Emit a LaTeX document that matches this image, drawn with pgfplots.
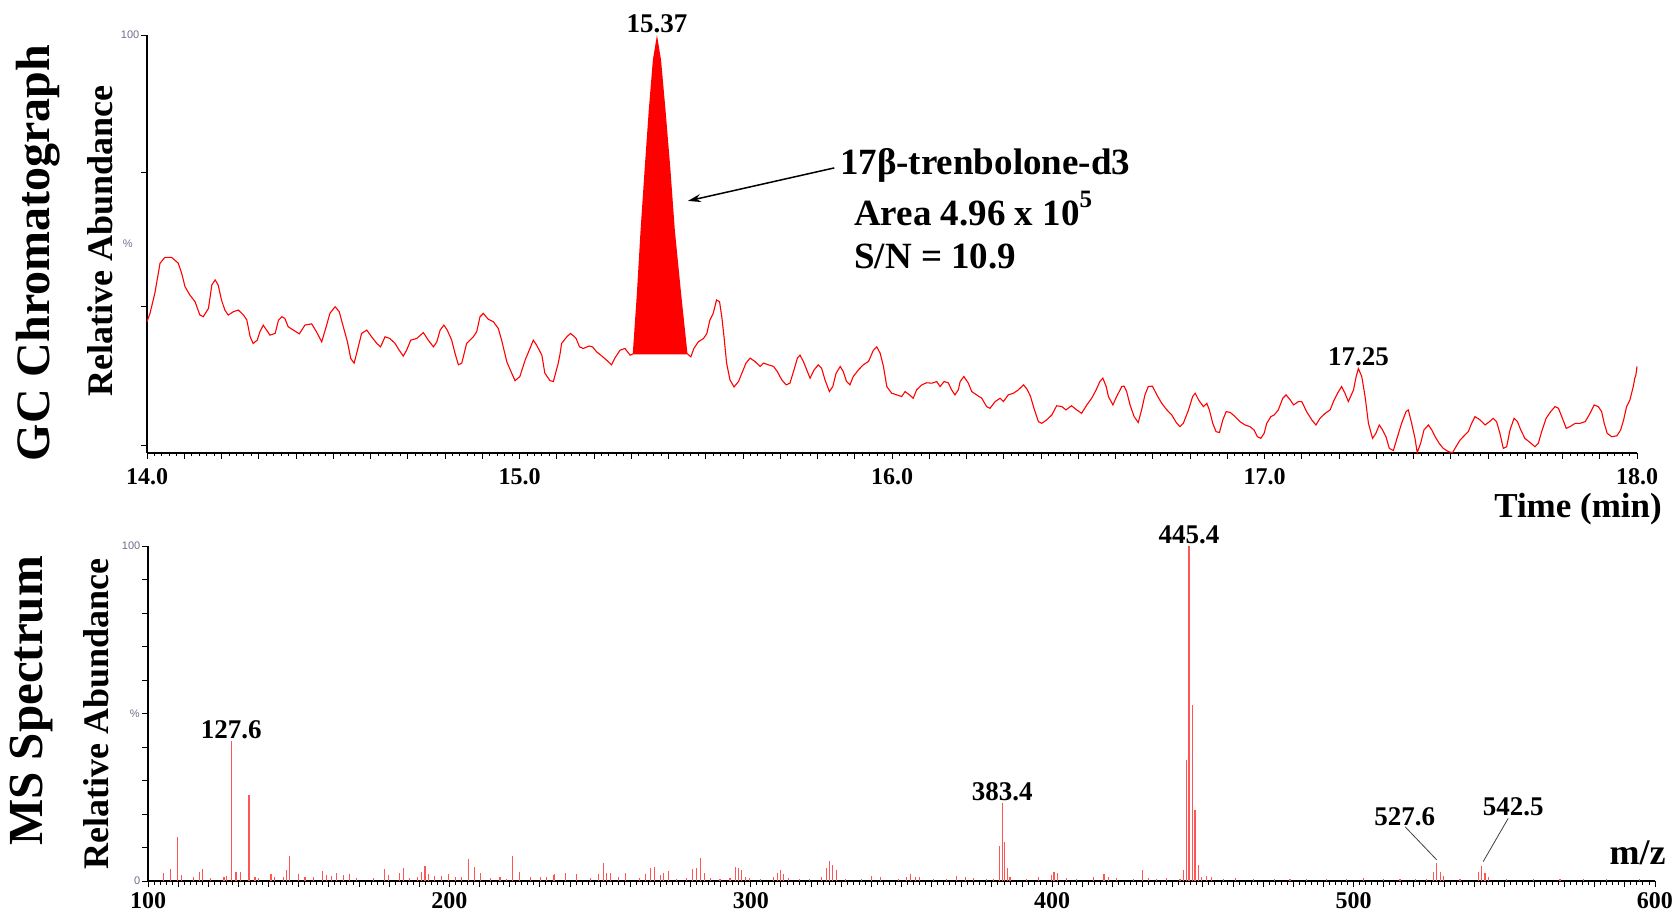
\documentclass[border=0pt]{standalone}
\usepackage{fontspec}
\setmainfont{Liberation Serif}
\newfontfamily\sansf{Liberation Sans}
\usepackage{pgfplots}
\pgfplotsset{compat=1.18}
\usetikzlibrary{arrows.meta}
\definecolor{msred}{RGB}{255,85,85}
\definecolor{ticklab}{RGB}{110,110,140}
\newcommand{\bfs}[1]{\bfseries\fontsize{#1}{#1}\selectfont}
\begin{document}
\begin{tikzpicture}
\useasboundingbox (0pt,0pt) rectangle (1678pt,914pt);
\pgfplotsset{
  common/.style={
    scale only axis, clip=false,
    axis lines*=left, axis line style={-},
    x axis line style={line width=2.4pt},
    y axis line style={line width=1.6pt},
    tick align=outside,
    major tick length=6pt, minor tick length=6pt,
    tick style={black, line width=0.9pt},
    extra x tick style={major tick length=3.5pt},
    extra x tick labels={},
    extra y tick labels={},
    xticklabel style={font=\bfs{24}, inner sep=0pt, anchor=north},
    yticklabel style={font=\sansf\fontsize{11}{11}\selectfont, text=ticklab, inner sep=1.5pt},
  }
}
% ---------------- GC chromatogram ----------------
\begin{axis}[common,
  at={(147pt,461pt)}, anchor=south west, width=1490pt, height=418pt,
  xmin=14, xmax=18, ymin=0, ymax=100,
  xtick={14,15,16,17,18}, xticklabels={14.0,15.0,16.0,17.0,18.0},
  minor xtick={14,14.1,...,18},
  extra x ticks={14,14.02,...,18},
  xticklabel style={yshift=-9pt},
  ytick={100}, yticklabels={100},
  extra y ticks={1.9,35,67.2},
]
\addplot[fill=red, draw=none] coordinates {
(15.304,23.7) (15.315,38) (15.325,53.3) (15.336,68) (15.347,82) (15.358,94) (15.369,100)
(15.380,94) (15.392,82) (15.405,68) (15.417,53.3) (15.434,38) (15.451,23.7)} -- cycle;
\addplot[red, line width=1.1pt] coordinates {
(14.000,31.4) (14.008,33.4) (14.021,38.2) (14.035,45.4) (14.048,46.8) (14.066,46.8) (14.084,45.4)
(14.093,43.0) (14.102,39.8) (14.115,37.8) (14.129,36.2) (14.142,33.0) (14.151,32.6) (14.165,34.6)
(14.174,40.2) (14.183,41.4) (14.191,40.2) (14.200,36.6) (14.209,34.2) (14.218,33.0) (14.232,33.8)
(14.245,34.2) (14.259,33.0) (14.268,31.8) (14.277,27.8) (14.285,26.2) (14.296,27.0) (14.303,29.0)
(14.312,30.6) (14.321,29.4) (14.330,28.2) (14.344,28.6) (14.353,31.8) (14.362,32.6) (14.370,32.2)
(14.379,30.2) (14.393,29.4) (14.409,28.5) (14.424,30.6) (14.442,30.9) (14.455,29.0) (14.469,26.6)
(14.481,30.2) (14.491,33.4) (14.505,35.0) (14.516,33.8) (14.527,30.2) (14.538,26.6) (14.547,22.6)
(14.556,21.5) (14.565,24.6) (14.576,28.6) (14.590,29.4) (14.603,27.8) (14.617,26.2) (14.627,25.4)
(14.639,27.8) (14.652,27.4) (14.666,26.2) (14.677,24.6) (14.688,23.2) (14.697,24.6) (14.708,27.0)
(14.724,27.4) (14.742,28.8) (14.755,27.0) (14.769,25.4) (14.778,26.6) (14.787,29.4) (14.797,30.6)
(14.806,29.4) (14.818,27.0) (14.827,23.8) (14.836,21.1) (14.845,21.5) (14.858,26.2) (14.876,27.8)
(14.885,29.0) (14.894,32.6) (14.903,33.4) (14.916,32.0) (14.930,31.4) (14.943,29.8) (14.952,27.0)
(14.966,21.8) (14.979,19.1) (14.988,17.3) (15.001,18.3) (15.015,22.2) (15.028,25.0) (15.037,27.0)
(15.046,25.8) (15.060,23.4) (15.068,19.1) (15.082,17.3) (15.091,17.1) (15.104,21.5) (15.109,23.8)
(15.113,26.2) (15.127,27.8) (15.137,28.6) (15.145,28.0) (15.152,27.4) (15.161,25.4) (15.171,25.0)
(15.187,25.6) (15.196,25.4) (15.207,24.2) (15.221,23.2) (15.234,22.2) (15.247,21.1) (15.256,22.7)
(15.270,24.6) (15.283,25.0) (15.297,23.4) (15.304,23.7)
(15.451,23.7) (15.460,23.0) (15.468,25.0) (15.480,26.6) (15.494,27.4) (15.503,28.6) (15.511,31.8)
(15.520,33.4) (15.529,36.6) (15.537,36.2) (15.543,32.6) (15.549,27.8) (15.556,21.5) (15.565,17.5)
(15.576,15.8) (15.588,17.1) (15.597,19.1) (15.608,21.5) (15.619,22.7) (15.632,21.9) (15.646,20.7)
(15.655,21.5) (15.668,21.1) (15.682,20.7) (15.692,19.5) (15.704,17.5) (15.716,16.3) (15.726,16.7)
(15.737,19.9) (15.746,22.7) (15.753,23.4) (15.762,21.9) (15.771,19.9) (15.780,17.9) (15.791,19.9)
(15.802,21.1) (15.811,20.3) (15.820,17.5) (15.832,14.7) (15.841,15.9) (15.850,19.1) (15.861,20.7)
(15.869,19.5) (15.878,17.1) (15.887,16.3) (15.896,18.3) (15.910,19.9) (15.923,21.1) (15.937,21.9)
(15.950,24.6) (15.959,25.4) (15.968,23.9) (15.977,20.7) (15.986,15.9) (15.999,14.3) (16.013,13.9)
(16.026,13.5) (16.035,14.7) (16.047,13.9) (16.057,13.1) (16.066,15.1) (16.080,16.3) (16.093,16.8)
(16.107,16.7) (16.120,17.1) (16.129,15.9) (16.140,17.1) (16.151,16.8) (16.160,15.1) (16.169,13.9)
(16.178,15.1) (16.183,17.1) (16.193,18.3) (16.205,16.7) (16.214,14.7) (16.227,13.9) (16.241,13.1)
(16.254,11.1) (16.263,10.7) (16.277,12.3) (16.290,13.1) (16.299,12.3) (16.312,13.9) (16.326,14.3)
(16.339,15.1) (16.353,16.3) (16.363,15.2) (16.372,13.5) (16.381,10.7) (16.393,7.5) (16.402,7.1)
(16.415,7.9) (16.429,9.1) (16.442,11.3) (16.456,11.1) (16.467,10.3) (16.482,11.3) (16.496,10.3)
(16.509,9.5) (16.523,11.5) (16.536,13.1) (16.548,15.1) (16.558,17.1) (16.566,17.9) (16.575,15.9)
(16.581,13.5) (16.593,11.5) (16.603,13.5) (16.617,15.9) (16.623,16.0) (16.630,14.7) (16.639,11.5)
(16.650,8.7) (16.661,7.3) (16.670,10.3) (16.679,13.9) (16.688,15.9) (16.699,16.0) (16.711,13.9)
(16.724,11.9) (16.737,10.4) (16.751,9.1) (16.763,7.3) (16.773,6.3) (16.782,7.1) (16.796,10.3)
(16.807,13.5) (16.814,14.3) (16.823,12.7) (16.836,11.1) (16.845,11.9) (16.852,10.3) (16.861,7.1)
(16.870,5.1) (16.879,4.9) (16.888,7.9) (16.897,9.9) (16.908,9.7) (16.921,8.7) (16.934,7.5)
(16.948,6.7) (16.961,6.3) (16.972,5.5) (16.981,3.9) (16.990,3.5) (16.999,4.7) (17.006,7.1)
(17.017,8.7) (17.026,9.1) (17.037,10.3) (17.049,13.1) (17.058,13.9) (17.069,12.7) (17.078,11.5)
(17.091,12.3) (17.100,12.3) (17.113,9.9) (17.127,7.9) (17.138,6.7) (17.149,8.3) (17.163,9.5)
(17.176,10.3) (17.185,12.3) (17.196,14.3) (17.207,15.9) (17.216,14.3) (17.225,12.3) (17.239,15.1)
(17.246,18.3) (17.252,20.2) (17.261,18.3) (17.270,13.5) (17.279,7.1) (17.290,3.5) (17.299,4.7)
(17.308,6.7) (17.317,5.5) (17.326,3.9) (17.335,1.1) (17.346,0.6) (17.357,3.9) (17.368,7.1)
(17.380,9.9) (17.386,10.3) (17.395,7.1) (17.404,3.5) (17.410,0.1) (17.419,2.3) (17.428,5.5)
(17.440,6.7) (17.449,5.5) (17.458,3.9) (17.469,2.3) (17.480,1.1) (17.494,0.3) (17.505,0.1)
(17.514,1.5) (17.525,3.1) (17.538,4.3) (17.547,5.1) (17.556,7.1) (17.565,8.7) (17.579,7.9)
(17.592,6.7) (17.604,7.5) (17.614,8.3) (17.623,7.5) (17.632,4.7) (17.641,1.1) (17.650,1.5)
(17.659,5.5) (17.670,8.3) (17.679,7.5) (17.688,5.5) (17.699,3.5) (17.713,2.5) (17.726,1.5)
(17.735,2.3) (17.744,5.1) (17.756,8.3) (17.768,9.9) (17.780,11.1) (17.789,10.7) (17.798,8.7)
(17.810,5.9) (17.820,6.3) (17.834,7.1) (17.847,7.1) (17.861,7.5) (17.874,9.5) (17.885,11.5)
(17.896,11.1) (17.905,9.9) (17.912,7.1) (17.920,4.7) (17.932,3.9) (17.946,4.1) (17.956,5.5)
(17.964,7.9) (17.972,11.1) (17.981,12.7) (17.990,15.9) (17.994,17.9) (17.997,18.7) (18.000,20.7)};
\node[anchor=south, font=\bfs{27}, inner sep=2pt] at (axis cs:15.369,100) {15.37};
\node[anchor=south, font=\bfs{27}, inner sep=2pt] at (axis cs:17.252,20.2) {17.25};
\node[anchor=east, font=\sansf\fontsize{11}{11}\selectfont, text=ticklab, inner sep=1pt] at (axis cs:13.965,50) {\%};
\draw[-{Stealth[length=13pt,width=8pt]}, line width=1.5pt] (axis cs:15.845,68.2) -- (axis cs:15.452,60.3);
\node[anchor=west, font=\bfs{37}, inner sep=0pt] at (axis cs:15.860,68.7) {17β-trenbolone-d3};
\node[anchor=west, font=\bfs{37}, inner sep=0pt] at (axis cs:15.898,58.5) {Area 4.96 x 10\raisebox{0.5em}{\fontsize{25}{25}\selectfont 5}};
\node[anchor=west, font=\bfs{37}, inner sep=0pt] at (axis cs:15.898,46.9) {S/N = 10.9};
\end{axis}
% ---------------- MS spectrum ----------------
\begin{axis}[common,
  at={(148pt,33pt)}, anchor=south west, width=1507pt, height=335pt,
  xmin=100, xmax=600, ymin=0, ymax=100,
  xtick={100,200,...,600}, xticklabels={100,200,300,400,500,600},
  minor xtick={100,110,...,600},
  extra x ticks={100,102,...,600},
  xticklabel style={yshift=-5pt},
  ytick={0,100}, yticklabels={0,100},
  extra y ticks={10,20,...,90},
]
\addplot[ycomb, msred, line width=1.1pt] coordinates {
(105.1,2.3) (107.5,3.5) (109.7,13.2) (111.2,1.8) (115.0,1.3) (117.0,2.8) (118.1,3.5) (120.8,0.8)
(125.2,1.3) (126.1,1.5) (127.6,41.8) (129.2,2.8) (130.8,2.8) (133.5,25.7) (135.5,1.3) (136.6,0.8)
(140.8,2.0) (142.1,1.3) (144.9,1.1) (146.0,3.3) (146.8,7.6) (149.9,2.1) (152.1,1.1) (154.9,1.1)
(158.0,3.1) (159.3,1.8) (161.0,1.5) (162.6,2.3) (165.0,1.8) (166.8,2.0) (169.2,0.8) (174.8,0.8)
(178.6,3.5) (179.7,1.8) (183.4,2.5) (184.7,3.8) (186.9,0.8) (189.4,1.3) (190.8,2.8) (191.9,4.6)
(193.0,2.0) (195.2,1.5) (197.4,1.5) (199.7,2.0) (201.9,1.3) (204.1,1.3) (206.3,6.6) (208.2,4.3)
(210.2,2.3) (213.5,0.8) (216.8,1.1) (219.0,0.6) (221.0,7.6) (223.2,2.8) (226.8,1.1) (230.1,1.3)
(232.3,1.1) (234.5,1.8) (235.0,2.1) (238.4,2.3) (242.2,2.0) (246.7,0.8) (249.4,2.1) (251.1,5.3)
(252.2,2.3) (253.5,2.3) (256.1,1.3) (258.3,2.5) (263.2,0.8) (265.2,2.0) (266.8,4.0) (268.2,4.3)
(269.9,1.8) (271.0,2.3) (272.6,3.0) (275.4,0.6) (278.7,0.8) (280.7,3.5) (282.0,3.8) (283.4,7.0)
(284.5,2.3) (286.5,0.8) (289.8,0.6) (293.1,0.8) (294.8,4.3) (295.9,4.0) (297.0,3.3) (298.1,1.3)
(299.7,0.8) (303.1,0.6) (307.5,1.3) (308.8,2.3) (309.9,3.3) (311.0,2.0) (312.5,0.8) (316.3,0.6)
(319.6,0.6) (323.5,1.1) (325.2,3.8) (326.1,6.0) (327.2,4.8) (328.5,3.3) (331.3,0.6) (336.8,0.5)
(340.1,1.5) (342.9,1.1) (349.0,0.6) (351.7,1.3) (353.1,2.0) (354.5,1.3) (356.1,1.1) (360.6,0.5)
(365.0,0.5) (368.3,1.5) (371.1,1.3) (373.8,0.8) (378.3,0.5) (380.5,0.6) (382.5,10.3) (383.4,23.2)
(384.3,11.5) (385.2,3.8) (386.0,1.3) (391.5,0.6) (395.4,1.3) (399.8,1.8) (400.6,2.8) (401.7,2.3)
(404.8,0.8) (408.1,0.6) (413.7,1.1) (417.2,2.0) (418.6,1.1) (421.4,0.8) (426.9,0.5) (430.0,3.3)
(431.9,0.8) (434.7,0.6) (438.0,1.0) (442.4,0.6) (443.7,3.3) (444.6,36.1) (445.4,100) (446.5,52.5)
(447.4,21.2) (448.5,4.8) (449.6,1.3) (451.3,1.5) (452.9,1.3) (456.8,0.6) (460.7,0.8) (466.7,0.5)
(473.9,0.7) (478.9,0.5) (484.4,0.5) (491.1,0.6) (497.7,0.5) (503.2,0.8) (509.9,0.5) (515.4,0.5)
(520.4,0.5) (524.3,0.6) (526.5,2.8) (527.6,5.5) (528.7,2.8) (529.8,1.5) (535.3,0.5) (541.4,2.8)
(542.5,4.5) (543.6,2.3) (544.7,1.1) (550.8,0.6) (559.6,0.5) (568.5,0.6) (576.2,0.6) (584.0,0.5)
(595.0,0.6)};
\node[anchor=south, font=\bfs{27}, inner sep=2pt] at (axis cs:127.6,41.8) {127.6};
\node[anchor=south, font=\bfs{27}, inner sep=2pt] at (axis cs:383.4,23.2) {383.4};
\node[anchor=south, font=\bfs{27}, inner sep=2pt] at (axis cs:445.4,100) {445.4};
\node[font=\bfs{27}, inner sep=0pt] at (axis cs:517.0,19.3) {527.6};
\node[font=\bfs{27}, inner sep=0pt] at (axis cs:553.0,22.2) {542.5};
\draw[black!75, line width=0.8pt] (axis cs:517.1,16.2) -- (axis cs:527.6,6.3);
\draw[black!75, line width=0.8pt] (axis cs:551.3,18.7) -- (axis cs:543.0,5.8);
\node[anchor=east, font=\sansf\fontsize{11}{11}\selectfont, text=ticklab, inner sep=1pt] at (axis cs:97.6,50) {\%};
\node[anchor=east, font=\bfs{36}, inner sep=0pt] at (axis cs:603.6,8.5) {m/z};
\end{axis}
% ---------------- outer labels ----------------
\node[anchor=east, font=\bfs{35}, inner sep=0pt] at (1662pt,405pt) {Time (min)};
\node[rotate=90, font=\bfs{48}, inner sep=0pt] at (38pt,661pt) {GC Chromatograph};
\node[rotate=90, font=\bfs{36}, inner sep=0pt] at (100pt,673pt) {Relative Abundance};
\node[rotate=90, font=\bfs{49}, inner sep=0pt] at (31pt,213pt) {MS Spectrum};
\node[rotate=90, font=\bfs{36}, inner sep=0pt] at (96pt,200pt) {Relative Abundance};
\end{tikzpicture}
\end{document}
